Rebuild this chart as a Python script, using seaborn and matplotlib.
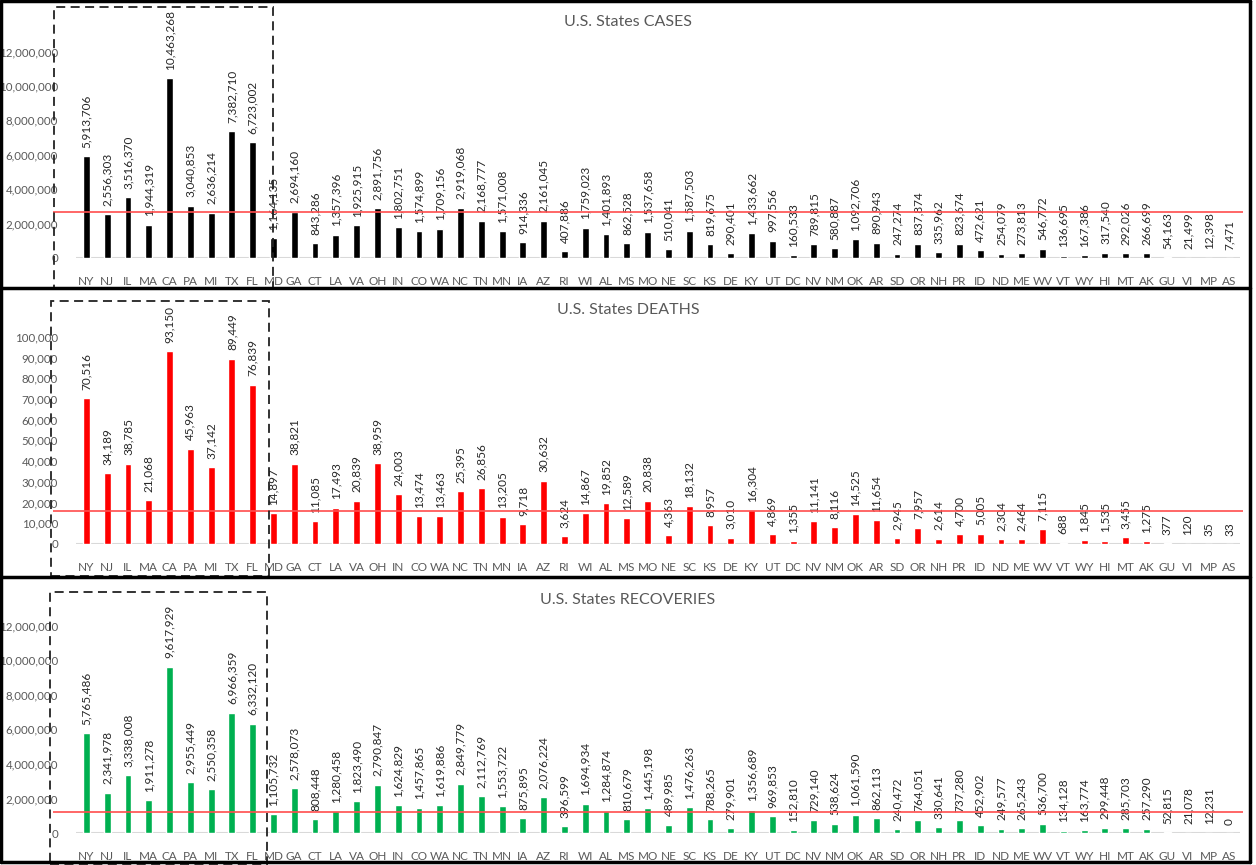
import matplotlib
matplotlib.use("Agg")
import matplotlib.pyplot as plt
import seaborn as sns
import pandas as pd
import numpy as np
from matplotlib.patches import Rectangle
from matplotlib.lines import Line2D
from matplotlib.ticker import FuncFormatter

states = ["NY", "NJ", "IL", "MA", "CA", "PA", "MI", "TX", "FL", "MD",
          "GA", "CT", "LA", "VA", "OH", "IN", "CO", "WA", "NC", "TN",
          "MN", "IA", "AZ", "RI", "WI", "AL", "MS", "MO", "NE", "SC",
          "KS", "DE", "KY", "UT", "DC", "NV", "NM", "OK", "AR", "SD",
          "OR", "NH", "PR", "ID", "ND", "ME", "WV", "VT", "WY", "HI",
          "MT", "AK", "GU", "VI", "MP", "AS"]

cases = [5913706, 2556303, 3516370, 1944319, 10463268, 3040853, 2636214, 7382710, 6723002, 1164135,
         2694160, 843286, 1357396, 1925915, 2891756, 1802751, 1574899, 1709156, 2919068, 2168777,
         1571008, 914336, 2161045, 407886, 1759023, 1401893, 862528, 1537658, 510041, 1587503,
         819675, 290401, 1433662, 997556, 160533, 789815, 580887, 1092706, 890943, 247274,
         837874, 335962, 823674, 472621, 254079, 273813, 546772, 136695, 167386, 317540,
         292026, 266699, 54163, 21499, 12398, 7471]

deaths = [70516, 34189, 38785, 21068, 93150, 45963, 37142, 89449, 76839, 14897,
          38821, 11085, 17493, 20839, 38959, 24003, 13474, 13463, 25395, 26856,
          13205, 9718, 30632, 3624, 14867, 19852, 12589, 20838, 4363, 18132,
          8957, 3010, 16304, 4869, 1355, 11141, 8116, 14525, 11654, 2945,
          7957, 2614, 4700, 5005, 2304, 2464, 7115, 688, 1845, 1535,
          3455, 1275, 377, 120, 35, 33]

recoveries = [5765486, 2341978, 3338008, 1911278, 9617929, 2955449, 2550358, 6966359, 6332120, 1105732,
              2578073, 808448, 1280458, 1823490, 2790847, 1624829, 1457865, 1619886, 2849779, 2112769,
              1553722, 875895, 2076224, 396599, 1694934, 1284874, 810679, 1445198, 489985, 1476263,
              788265, 279901, 1356689, 969853, 152810, 729140, 538624, 1061590, 862113, 240472,
              764051, 330641, 737280, 452902, 249577, 265243, 536700, 134128, 163774, 299448,
              285703, 257290, 52815, 21078, 12231, 0]

ref_cases = 2650000
ref_deaths = 16000
ref_recoveries = 1240000

titles = ["U.S. States CASES", "U.S. States DEATHS", "U.S. States RECOVERIES"]

sns.set_theme(style="white")
plt.rcParams['font.family'] = ['Lato', 'DejaVu Sans']

W, H = 1256, 865
fig = plt.figure(figsize=(W / 100, H / 100), dpi=100)
fig.patch.set_facecolor("white")


def fx(px):
    return px / W


def fy(px):
    return 1 - px / H


panels = [
    dict(title=titles[0], vals=cases, ref=ref_cases, color="#000000",
         y0=258, ytop=17, ymax=14e6, step=2e6, tmax=12e6, title_y=22,
         box=(54, 7, 273, 288)),
    dict(title=titles[1], vals=deaths, ref=ref_deaths, color="#ff0000",
         y0=544, ytop=316, ymax=110000, step=10000, tmax=100000, title_y=310,
         box=(51, 301, 269, 576)),
    dict(title=titles[2], vals=recoveries, ref=ref_recoveries, color="#00b050",
         y0=833, ytop=591, ymax=14e6, step=2e6, tmax=12e6, title_y=600,
         box=(50, 592, 267, 865)),
]

x_left, x_right = 76, 1240
n = len(states)
px_per_cat = (x_right - x_left) / n

for p in panels:
    ax = fig.add_axes([fx(x_left), fy(p["y0"]), fx(x_right) - fx(x_left),
                       (p["y0"] - p["ytop"]) / H])
    df = pd.DataFrame({"state": states, "value": p["vals"]})
    sns.barplot(data=df, x="state", y="value", color=p["color"], width=0.33,
                saturation=1, ax=ax, zorder=2)
    ax.set_xlim(-0.5, n - 0.5)
    ax.set_ylim(0, p["ymax"])
    ax.set_yticks(np.arange(0, p["tmax"] + p["step"] / 2, p["step"]))
    ax.yaxis.set_major_formatter(FuncFormatter(lambda v, _: f"{v:,.0f}"))
    ax.set_xlabel("")
    ax.set_ylabel("")
    for s in ax.spines.values():
        s.set_visible(False)
    ax.tick_params(axis="y", left=False, pad=7, labelsize=8.3, labelcolor="#595959")
    ax.tick_params(axis="x", bottom=False, pad=7, labelsize=8.5, labelcolor="#595959")
    ax.set_facecolor("none")
    ax.axhline(0, color="#d9d9d9", lw=1.5, zorder=1)
    for i, v in enumerate(p["vals"]):
        ax.annotate(f"{v:,}", (i, v), xytext=(0, 6), textcoords="offset points",
                    rotation=90, ha="center", va="bottom", fontsize=8.5,
                    color="#262626", zorder=3, annotation_clip=False)
    xmin = -0.5 - (x_left - 53) / px_per_cat
    xmax = n - 0.5 + 3 / px_per_cat
    ax.hlines(p["ref"], xmin, xmax, colors="#ff4d4d", lw=1.2, zorder=4, clip_on=False)
    fig.text(fx(628), fy(p["title_y"]), p["title"], ha="center", va="center",
             fontsize=11.5, color="#595959")
    bx0, by0, bx1, by1 = p["box"]
    fig.add_artist(Rectangle((fx(bx0), fy(by1)), fx(bx1) - fx(bx0), (by1 - by0) / H,
                             transform=fig.transFigure, fill=False,
                             edgecolor="#222222", lw=1.3, linestyle=(0, (5, 3)),
                             zorder=5))

# panel frames
frame_kw = dict(transform=fig.transFigure, color="black", lw=2.5, zorder=6)
for ypx in [1.2, 288, 576.5, 862]:
    fig.add_artist(Line2D([fx(1.2), fx(1250)], [fy(ypx), fy(ypx)], **frame_kw))
for xpx in [1.2, 1250]:
    fig.add_artist(Line2D([fx(xpx), fx(xpx)], [fy(1.2), fy(862)], **frame_kw))

fig.savefig("out.png", dpi=100, facecolor="white")
